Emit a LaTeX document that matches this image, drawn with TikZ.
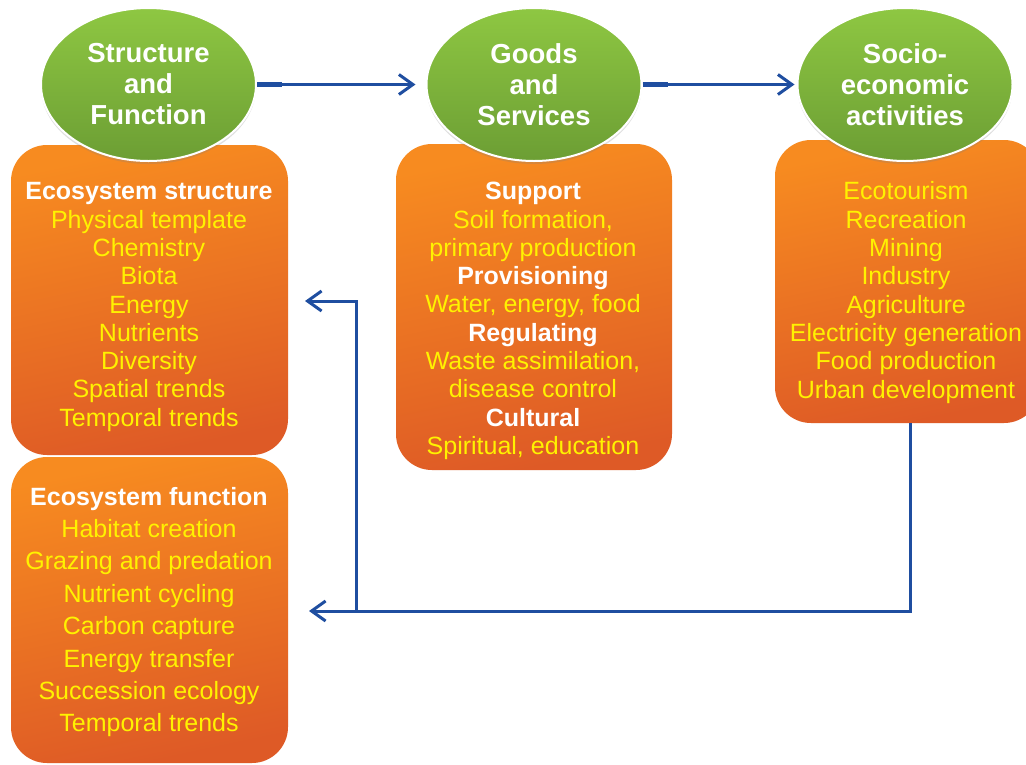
\documentclass[tikz,border=0pt]{standalone}
\usepackage{fontspec}
\setmainfont{Liberation Sans}
\usetikzlibrary{arrows.meta,shadows,shapes.geometric}
\definecolor{orT}{RGB}{247,139,32}
\definecolor{orB}{RGB}{222,90,38}
\definecolor{grT}{RGB}{142,199,66}
\definecolor{grB}{RGB}{108,158,52}
\definecolor{ylw}{RGB}{255,242,0}
\definecolor{arblue}{RGB}{31,78,160}
\newcommand\boxhead[1]{\textcolor{white}{\bfseries #1}}
\begin{document}
\begin{tikzpicture}[x=1pt,y=-1pt,
  obox/.style={rectangle, rounded corners=36pt, top color=orT, bottom color=orB, shading angle=12, inner sep=0pt, draw=none},
  ell/.style={ellipse, minimum width=215pt, minimum height=153pt, top color=grT, bottom color=grB, draw=white, line width=2pt,
    drop shadow={opacity=0.25, shadow xshift=0pt, shadow yshift=-3pt},
    font=\fontsize{27.5}{31}\selectfont\bfseries, text=white, align=center, inner sep=0pt},
  btext/.style={text=ylw, align=center, inner sep=0pt, font=\fontsize{25}{28.3}\selectfont},
  bline/.style={draw=arblue, line width=3pt},
  barrow/.style={bline, -{Straight Barb[length=14pt,width=20pt]}},
  bthick/.style={draw=arblue, line width=5pt}
]
\useasboundingbox (0,0) rectangle (1026,764);
\fill[white] (0,0) rectangle (1026,764);

% boxes
\node[obox, minimum width=277pt, minimum height=310pt] (b1) at (149.5,300) {};
\node[obox, minimum width=277pt, minimum height=306pt] (b2) at (149.5,610) {};
\node[obox, minimum width=276pt, minimum height=326pt] (b3) at (534,307) {};
\node[obox, minimum width=265pt, minimum height=283pt] (b4) at (907.5,281.5) {};

% ellipses
\node[ell] (e1) at (148.5,84.5) {Structure\\and\\Function};
\node[ell] (e2) at (534,84.5) {Goods\\and\\Services};
\node[ell] (e3) at (905,84.5) {Socio-\\economic\\activities};

% box texts
\node[btext] (t1) at (149,307) {\boxhead{Ecosystem structure}\\Physical template\\Chemistry\\Biota\\Energy\\Nutrients\\Diversity\\Spatial trends\\Temporal trends};
\node[btext, font=\fontsize{25}{32.4}\selectfont] (t2) at (149,612) {\boxhead{Ecosystem function}\\Habitat creation\\Grazing and predation\\Nutrient cycling\\Carbon capture\\Energy transfer\\Succession ecology\\Temporal trends};
\node[btext] (t3) at (533,321) {\boxhead{Support}\\Soil formation,\\primary production\\\boxhead{Provisioning}\\Water, energy, food\\\boxhead{Regulating}\\Waste assimilation,\\disease control\\\boxhead{Cultural}\\Spiritual, education};
\node[btext] (t4) at (906,292.5) {Ecotourism\\Recreation\\Mining\\Industry\\Agriculture\\Electricity generation\\Food production\\Urban development};

% top arrows
\draw[bthick] (e1.east) -- ++(25,0);
\draw[barrow, shorten >=10pt] (e1.east) -- (e2.west);
\draw[bthick] (e2.east) -- ++(25,0);
\draw[barrow, shorten >=2pt] (e2.east) -- (e3.west);

% feedback arrows
\coordinate (c1) at (910,611);
\coordinate (c2) at (356,611);
\coordinate (c3) at (356,301);
\coordinate (a1) at (305,301);
\coordinate (a2) at (309,611);
\draw[barrow] (b4.south -| c1) -- (c1) -- (c2) -- (c3) -- (a1);
\draw[barrow] (c2) -- (a2);
\end{tikzpicture}
\end{document}
